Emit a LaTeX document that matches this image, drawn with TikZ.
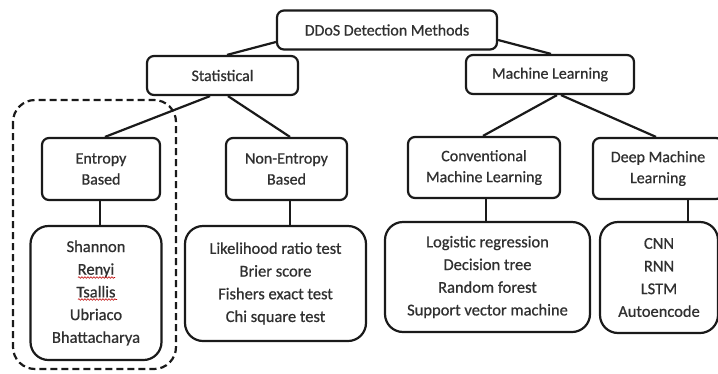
\documentclass[tikz,border=0pt]{standalone}
\usepackage{fontspec}
\setmainfont{Carlito}[FakeBold=0.7]
\usetikzlibrary{calc,decorations.pathmorphing}
\definecolor{ink}{HTML}{1A1A1A}
\definecolor{txt}{HTML}{303030}
\begin{document}
\begin{tikzpicture}[x=1pt,y=-1pt,
  box/.style={draw=ink,line width=2.2pt,rounded corners=7pt,
    align=center,text=txt,inner sep=0pt,
    font=\fontsize{16}{21}\selectfont},
  listbox/.style={box,rounded corners=18pt,
    font=\fontsize{16.5}{22.7}\selectfont},
  link/.style={draw=ink,line width=2.2pt},
  squiggle/.style={draw=red!75!black,line width=0.6pt,
    decorate,decoration={snake,amplitude=0.8pt,segment length=3pt}}]
\useasboundingbox (0,0) rectangle (718,373);
\fill[white] (0,0) rectangle (718,373);

% root and the two families
\node[box,minimum width=220pt,minimum height=39pt] (ddos) at (387,30) {DDoS Detection Methods};
\node[box,minimum width=151pt,minimum height=39pt] (stat) at (222.5,75.5) {Statistical};
\node[box,minimum width=168pt,minimum height=39pt] (ml) at (550,74.5) {Machine Learning};

% sub-categories
\node[box,minimum width=118pt,minimum height=62pt] (ent) at (101,169) {Entropy\\Based};
\node[box,minimum width=121pt,minimum height=62pt] (nonent) at (286.5,169) {Non-Entropy\\Based};
\node[box,minimum width=152pt,minimum height=61pt] (conv) at (484,167.5) {Conventional\\Machine Learning};
\node[box,minimum width=130pt,minimum height=61pt] (deep) at (658,168.5) {Deep Machine\\Learning};

% method lists
\node[listbox,minimum width=131pt,minimum height=134pt] (entl) at (96,293)
  {Shannon\\Renyi\\Tsallis\\Ubriaco\\Bhattacharya};
\node[listbox,minimum width=181pt,minimum height=115pt] (nonl) at (275.5,283.5)
  {Likelihood ratio test\\Brier score\\Fishers exact test\\Chi square test};
\node[listbox,minimum width=205pt,minimum height=110pt] (convl) at (487.5,277)
  {Logistic regression\\Decision tree\\Random forest\\Support vector machine};
\node[listbox,minimum width=118pt,minimum height=111pt] (deepl) at (659,277.5)
  {CNN\\RNN\\LSTM\\Autoencode};

% dashed frame round the entropy branch
\draw[ink,line width=2.2pt,dash pattern=on 7pt off 4pt,rounded corners=22pt]
  (13,100) rectangle (176,369);

% spell-check marks under two of the entropy names
\draw[squiggle] (78,277.5) -- (115,277.5);
\draw[squiggle] (78,299.5) -- (117,299.5);

% connectors
\draw[link] ($(ddos.west)+(0,12)$) -- ($(stat.north)+(4.5,0)$);
\draw[link] ($(ddos.east)+(0,10)$) -- ($(ml.north)+(1,0)$);
\draw[link] ($(stat.south)+(-12.5,0)$) -- ($(ent.north)+(4,0)$);
\draw[link] ($(stat.south)+(5.5,0)$) -- ($(nonent.north)+(3.5,0)$);
\draw[link] ($(ml.south)+(7,0)$) -- ($(conv.north)+(-1,0)$);
\draw[link] ($(ml.south)+(11,0)$) -- ($(deep.north)+(-2,0)$);
\coordinate (e1) at ($(ent.south)+(-1,0)$);
\draw[link] (e1) -- (e1 |- entl.north);
\coordinate (n1) at ($(nonent.south)+(3.5,0)$);
\draw[link] (n1) -- (n1 |- nonl.north);
\coordinate (c1) at ($(conv.south)+(2,0)$);
\draw[link] (c1) -- (c1 |- convl.north);
\coordinate (d1) at ($(deep.south)+(30,0)$);
\draw[link] (d1) -- (d1 |- deepl.north);
\end{tikzpicture}
\end{document}
